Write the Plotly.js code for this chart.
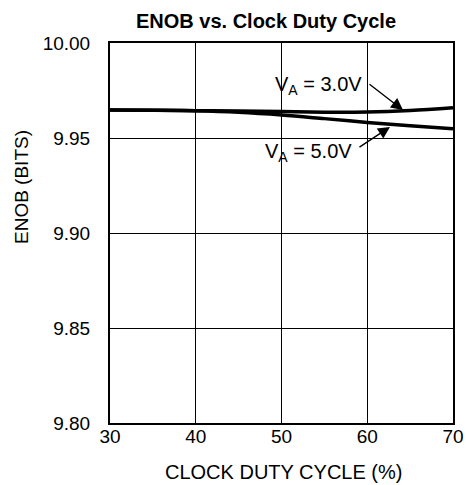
<!DOCTYPE html>
<html>
<head>
<meta charset="utf-8">
<script src="https://cdn.plot.ly/plotly-3.0.1.min.js"></script>
<style>html,body{margin:0;padding:0;background:#fff;}#chart{width:466px;height:485px;}</style>
</head>
<body>
<div id="chart"></div>
<script>
const dutyCycle = [30, 35, 40, 45, 50, 55, 60, 65, 70];
const enob3V = [9.9647, 9.9646, 9.9644, 9.9642, 9.9639, 9.9636, 9.9637, 9.9645, 9.9659];
const enob5V = [9.9647, 9.9646, 9.9643, 9.9635, 9.9621, 9.9602, 9.9582, 9.9565, 9.9549];
const xTicks = [30, 40, 50, 60, 70];
const yTicks = [9.80, 9.85, 9.90, 9.95, 10.00];
const yTickText = ['9.80', '9.85', '9.90', '9.95', '10.00'];

const FONT = 'Liberation Sans, Arial, sans-serif';
const lineStyle = {color: '#000', width: 3.5, shape: 'spline'};

const traces = [
  {x: dutyCycle, y: enob3V, mode: 'lines', line: lineStyle, name: 'VA = 3.0V', hoverinfo: 'skip'},
  {x: dutyCycle, y: enob5V, mode: 'lines', line: lineStyle, name: 'VA = 5.0V', hoverinfo: 'skip'}
];

const axisCommon = {
  showline: true, linecolor: '#000', linewidth: 2, mirror: true,
  showgrid: true, gridcolor: '#000', gridwidth: 1,
  zeroline: false, ticks: '', fixedrange: true,
  tickfont: {family: FONT, size: 19, color: '#000'}
};

const layout = {
  width: 466, height: 485,
  margin: {l: 110, r: 13, t: 43, b: 62},
  paper_bgcolor: '#fff', plot_bgcolor: '#fff',
  showlegend: false,
  title: {
    text: '<b>ENOB vs. Clock Duty Cycle</b>',
    font: {family: FONT, size: 20, color: '#000'},
    x: 266 / 466, xanchor: 'center', xref: 'container',
    y: 1 - 21 / 485, yanchor: 'middle', yref: 'container'
  },
  xaxis: Object.assign({}, axisCommon, {
    range: [30, 70], tickvals: xTicks, ticktext: xTicks.map(String),
    ticklabelstandoff: -5
  }),
  yaxis: Object.assign({}, axisCommon, {
    range: [9.80, 10.00], tickvals: yTicks, ticktext: yTickText,
    ticklabelstandoff: 14
  }),
  annotations: [
    {xref: 'paper', yref: 'paper', x: (22 - 110) / 343, y: (423 - 187) / 380,
     text: 'ENOB (BITS)', textangle: -90, showarrow: false,
     xanchor: 'center', yanchor: 'middle',
     font: {family: FONT, size: 19, color: '#000'}},
    {xref: 'paper', yref: 'paper', x: (283 - 110) / 343, y: (423 - 472) / 380,
     text: 'CLOCK DUTY CYCLE (%)', showarrow: false,
     xanchor: 'center', yanchor: 'middle',
     font: {family: FONT, size: 20, color: '#000'}},
    {xref: 'x', yref: 'y', x: 54.26, y: 9.9774, text: 'V<sub>A</sub> = 3.0V',
     showarrow: false, xanchor: 'center', yanchor: 'middle',
     font: {family: FONT, size: 20, color: '#000'}},
    {xref: 'x', yref: 'y', x: 53.2, y: 9.9426, text: 'V<sub>A</sub> = 5.0V',
     showarrow: false, xanchor: 'center', yanchor: 'middle',
     font: {family: FONT, size: 20, color: '#000'}},
    {xref: 'x', yref: 'y', x: 64.17, y: 9.9647, axref: 'x', ayref: 'y',
     ax: 60.09, ay: 9.9789, text: '', showarrow: true,
     arrowhead: 2, arrowsize: 1.7, arrowwidth: 1.4, arrowcolor: '#000'},
    {xref: 'x', yref: 'y', x: 62.65, y: 9.9558, axref: 'x', ayref: 'y',
     ax: 58.92, ay: 9.9447, text: '', showarrow: true,
     arrowhead: 2, arrowsize: 1.7, arrowwidth: 1.4, arrowcolor: '#000'}
  ]
};

Plotly.newPlot('chart', traces, layout, {displayModeBar: false, staticPlot: true});
</script>
</body>
</html>
